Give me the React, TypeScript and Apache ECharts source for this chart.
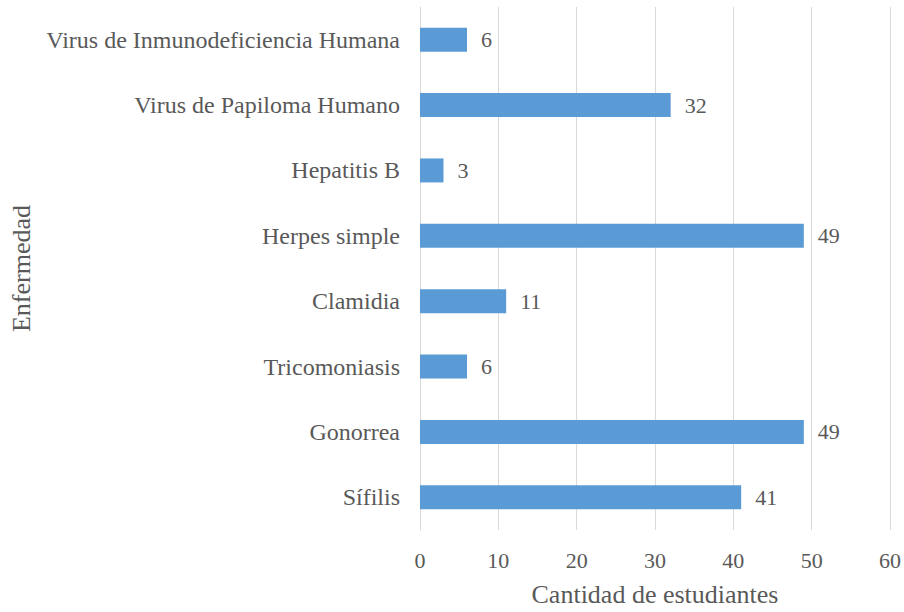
import React, { useEffect, useRef } from "react";
import * as echarts from "echarts";

const categories = [
  "Virus de Inmunodeficiencia Humana",
  "Virus de Papiloma Humano",
  "Hepatitis B",
  "Herpes simple",
  "Clamidia",
  "Tricomoniasis",
  "Gonorrea",
  "Sífilis",
];
const values = [6, 32, 3, 49, 11, 6, 49, 41];

const FONT = "'Liberation Serif', 'Times New Roman', serif";
const TEXT = "#595959";

export default function App() {
  const ref = useRef<HTMLDivElement>(null);
  useEffect(() => {
    if (!ref.current) return;
    const chart = echarts.init(ref.current, undefined, { renderer: "svg" });
    chart.setOption({
      animation: false,
      textStyle: { fontFamily: FONT },
      grid: { left: 420, right: 13, top: 7, bottom: 79, containLabel: false },
      xAxis: {
        type: "value",
        min: 0,
        max: 60,
        interval: 10,
        name: "Cantidad de estudiantes",
        nameLocation: "middle",
        nameGap: 51,
        nameTextStyle: { fontFamily: FONT, fontSize: 26, color: TEXT, verticalAlign: "top" },
        axisLine: { show: false },
        axisTick: { show: false },
        axisLabel: { fontFamily: FONT, fontSize: 22, color: TEXT, margin: 19 },
        splitLine: { show: true, lineStyle: { color: "#d9d9d9", width: 1 } },
      },
      yAxis: {
        type: "category",
        data: categories,
        inverse: true,
        name: "Enfermedad",
        nameLocation: "middle",
        nameGap: 386,
        nameTextStyle: { fontFamily: FONT, fontSize: 26, color: TEXT },
        axisLine: { show: true, lineStyle: { color: "#d9d9d9" } },
        axisTick: { show: false },
        axisLabel: { fontFamily: FONT, fontSize: 24, color: TEXT, margin: 20 },
        splitLine: { show: false },
      },
      series: [
        {
          type: "bar",
          data: values,
          barWidth: 24,
          itemStyle: { color: "#5B9BD5" },
          label: {
            show: true,
            position: "right",
            distance: 14,
            fontFamily: FONT,
            fontSize: 22,
            color: TEXT,
          },
        },
      ],
    });
    return () => chart.dispose();
  }, []);
  return <div ref={ref} style={{ width: 904, height: 612, position: "absolute", left: 0, top: 0 }} />;
}
